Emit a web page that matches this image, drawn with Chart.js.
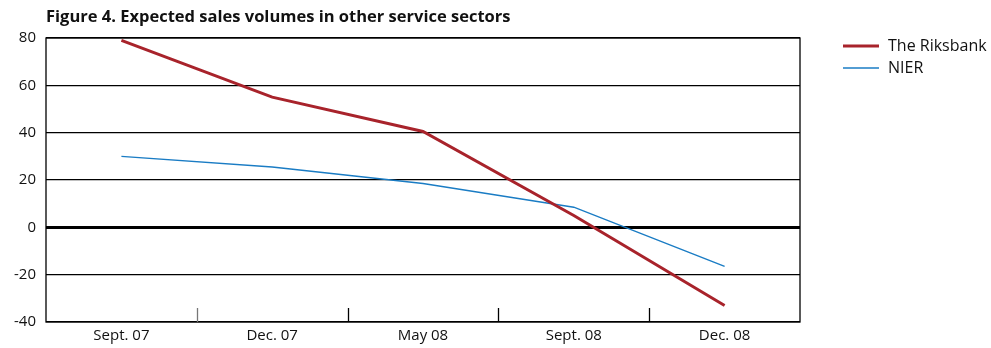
<!DOCTYPE html>
<html><head><meta charset="utf-8">
<script src="https://cdn.jsdelivr.net/npm/chart.js@4"></script>
<style>html,body{margin:0;padding:0;background:#fff}#wrap{width:991px;height:348px;position:relative}</style>
</head><body><div id="wrap"><canvas id="c" width="991" height="348"></canvas></div>
<script>
const categories = ["Sept. 07", "Dec. 07", "May 08", "Sept. 08", "Dec. 08"];
const riksbank = [79, 55, 40.5, 5, -33];
const nier = [30, 25.5, 18.5, 8.5, -16.5];
const yTicks = [80, 60, 40, 20, 0, -20, -40];
const titleText = "Figure 4. Expected sales volumes in other service sectors";
const FONT = "'Open Sans', 'Noto Sans', sans-serif";

const framePlugin = {
  id: 'frame',
  afterDraw(chart) {
    const ctx = chart.ctx, a = chart.chartArea, xs = chart.scales.x;
    ctx.save();
    ctx.strokeStyle = '#000';
    ctx.lineWidth = 1.3;
    ctx.strokeRect(a.left, a.top, a.right - a.left, a.bottom - a.top);
    for (let i = 1; i < categories.length; i++) {
      const x = Math.round((xs.getPixelForValue(i - 1) + xs.getPixelForValue(i)) / 2) + 0.5;
      ctx.strokeStyle = i === 1 ? '#777' : '#000';
      ctx.beginPath(); ctx.moveTo(x, a.bottom); ctx.lineTo(x, a.bottom - 14); ctx.stroke();
    }
    ctx.fillStyle = '#111';
    ctx.font = "bold 16.5px " + FONT;
    ctx.textBaseline = 'middle'; ctx.textAlign = 'left';
    ctx.fillText(titleText, 46, 17);
    ctx.font = "16px " + FONT;
    chart.data.datasets.forEach((ds, i) => {
      const y = 46 + i * 22;
      ctx.strokeStyle = ds.borderColor; ctx.lineWidth = ds.borderWidth;
      ctx.beginPath(); ctx.moveTo(843, y); ctx.lineTo(879, y); ctx.stroke();
      ctx.fillStyle = '#111';
      ctx.fillText(ds.label, 888, y);
    });
    ctx.restore();
  }
};

new Chart(document.getElementById('c'), {
  type: 'line',
  data: {
    labels: categories,
    datasets: [
      { label: 'The Riksbank', data: riksbank, borderColor: '#a8232b', borderWidth: 3, pointRadius: 0, tension: 0 },
      { label: 'NIER', data: nier, borderColor: '#1a7cc4', borderWidth: 1.4, pointRadius: 0, tension: 0 }
    ]
  },
  options: {
    responsive: false,
    animation: false,
    layout: { padding: { left: 0, right: 191, top: 38, bottom: 0 } },
    plugins: { legend: { display: false }, title: { display: false }, tooltip: { enabled: false } },
    scales: {
      x: {
        offset: true,
        grid: { display: false, drawTicks: false },
        border: { display: false },
        ticks: { color: '#111', font: { family: FONT, size: 15 }, padding: 5, maxRotation: 0 },
        afterFit(s) { s.height = 26; }
      },
      y: {
        min: -40, max: 80,
        afterBuildTicks(s) { s.ticks = yTicks.map(v => ({ value: v })); },
        grid: {
          color: '#000', drawTicks: false,
          lineWidth: c => (c.tick && c.tick.value === 0 ? 3 : 1.3)
        },
        border: { display: false },
        ticks: { color: '#111', font: { family: FONT, size: 15 }, padding: 10 },
        afterFit(s) { s.width = 46; }
      }
    }
  },
  plugins: [framePlugin]
});
</script>
</body></html>
